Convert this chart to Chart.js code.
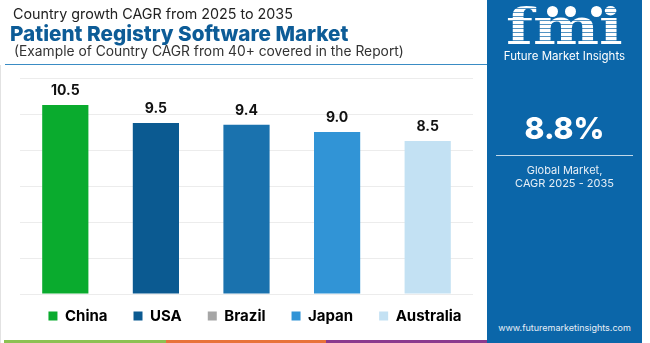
<!DOCTYPE html>
<html>
<head>
<meta charset="utf-8">
<script src="https://cdn.jsdelivr.net/npm/chart.js@4"></script>
<style>
  html, body { margin: 0; padding: 0; background: #fff; }
  body { width: 650px; height: 343px; position: relative; overflow: hidden; font-family: Inter, "Open Sans", sans-serif; }
  #wrap { position: absolute; left: 0; top: 0; width: 487px; height: 345px; }
  .t1 { position: absolute; left: 13px; top: 5px; font-size: 14.3px; color: #222; white-space: nowrap; }
  .t2 { position: absolute; left: 10px; top: 21px; font-size: 20.7px; font-weight: 800; color: #0d5c97; white-space: nowrap; }
  .t3 { position: absolute; left: 14px; top: 43px; font-size: 13.8px; color: #333; white-space: nowrap; }
  .rule { position: absolute; left: 5px; top: 64px; width: 482px; height: 1px; background: #3a8cc4; }
  .lborder { position: absolute; left: 0; top: 65px; width: 1px; height: 278px; background: #e2e2e2; }
  .strip { position: absolute; top: 340px; height: 3px; }
  #panel { position: absolute; left: 487px; top: 0; width: 155px; height: 343px; background: #0b66a9; color: #fff; text-align: center; }
  .logo { position: absolute; left: 0; width: 155px; top: -3px; font-family: "DejaVu Serif", serif; font-weight: bold; font-size: 50px; transform: scaleX(1.25);
          background: repeating-linear-gradient(#fff 0 3px, rgba(255,255,255,0.3) 3px 4px); -webkit-background-clip: text; background-clip: text; color: transparent; }
  .dots { position: absolute; top: 6px; width: 11px; height: 11px; border-radius: 50%; background: #fff; }
  .fmi { position: absolute; left: 0; width: 155px; top: 49px; font-size: 11.5px; }
  .big { position: absolute; left: 0; width: 155px; top: 110px; font-size: 30px; font-weight: 800; }
  .hr { position: absolute; left: 9px; width: 137px; top: 155px; height: 1px; background: rgba(255,255,255,0.75); }
  .glob { position: absolute; left: 0; width: 155px; top: 164px; font-size: 11px; line-height: 13px; color: #e6eef6; }
  .url { position: absolute; left: 0; width: 155px; top: 322px; font-size: 9px; color: #e6eef6; }
</style>
</head>
<body>
<div id="wrap"><canvas id="chart"></canvas></div>
<div class="t1">Country growth CAGR from 2025 to 2035</div>
<div class="t2">Patient Registry Software Market</div>
<div class="t3">(Example of Country CAGR from 40+ covered in the Report)</div>
<div class="rule"></div>
<div class="lborder"></div>
<div class="strip" style="left:4px;width:162px;background:#8cc152;"></div>
<div class="strip" style="left:166px;width:160px;background:#e8733a;"></div>
<div class="strip" style="left:326px;width:161px;background:#8b3a8e;"></div>
<div id="panel">
  <div class="logo">fmi</div>
  <div class="dots" style="left:60px;"></div>
  <div class="dots" style="left:78px;"></div>
  <div class="dots" style="left:104px;"></div>
  <div class="fmi">Future Market Insights</div>
  <div class="big">8.8%</div>
  <div class="hr"></div>
  <div class="glob">Global Market,<br>CAGR 2025 - 2035</div>
  <div class="url">www.futuremarketinsights.com</div>
</div>
<script>
// Data
const negara = ['China', 'USA', 'Brazil', 'Japan', 'Australia'];
const nilaiCagr = [10.5, 9.5, 9.4, 9.0, 8.5];
const warnaBar = ['#0aab2e', '#0b5a91', '#1a72ae', '#3194d6', '#c3e1f3'];
const warnaLegend = ['#0aab2e', '#0b5a91', '#a6a6a6', '#3194d6', '#c3e1f3'];
const yTicks = [0, 2, 4, 6, 8, 10, 12];

// geser legend supaya posisinya sama dengan gambar
const geserLegend = { x: 11.5, y: -11.5 };

const labelNilai = {
  id: 'labelNilai',
  afterDatasetsDraw(chart) {
    const c = chart.ctx;
    const meta = chart.getDatasetMeta(0);
    c.save();
    c.font = 'bold 14px Inter, sans-serif';
    c.fillStyle = '#111';
    c.textAlign = 'center';
    c.textBaseline = 'bottom';
    meta.data.forEach((bar, i) => {
      c.fillText(nilaiCagr[i].toFixed(1), bar.x, bar.y - 7);
    });
    c.restore();
  }
};

const posisiLegend = {
  id: 'posisiLegend',
  afterLayout(chart) {
    const lg = chart.legend;
    if (!lg) return;
    lg.left += geserLegend.x;
    lg.right += geserLegend.x;
    lg.top += geserLegend.y;
    lg.bottom += geserLegend.y;
  }
};

const ctx = document.getElementById('chart').getContext('2d');
new Chart(ctx, {
  type: 'bar',
  data: {
    labels: negara,
    datasets: [{
      label: 'CAGR',
      data: nilaiCagr,
      backgroundColor: warnaBar,
      borderWidth: 0,
      categoryPercentage: 1,
      barPercentage: 0.51
    }]
  },
  options: {
    responsive: true,
    maintainAspectRatio: false,
    animation: false,
    layout: {
      padding: { top: 78, left: 0, right: 0, bottom: 0 }
    },
    plugins: {
      tooltip: { enabled: false },
      legend: {
        position: 'bottom',
        labels: {
          boxWidth: 9,
          boxHeight: 9,
          padding: 26,
          color: '#111',
          font: { family: 'Inter, sans-serif', size: 15, weight: 'bold' },
          generateLabels: () => negara.map((n, i) => ({
            text: n,
            fillStyle: warnaLegend[i],
            strokeStyle: warnaLegend[i],
            lineWidth: 0,
            hidden: false,
            index: i
          }))
        }
      }
    },
    scales: {
      x: {
        display: false
      },
      y: {
        min: 0,
        max: 12,
        afterBuildTicks: axis => { axis.ticks = yTicks.map(v => ({ value: v })); },
        afterFit: axis => { axis.width = 20; },
        ticks: { display: false },
        border: { display: false },
        grid: { color: '#ececec', drawTicks: false }
      },
      kanan: {
        position: 'right',
        display: true,
        afterFit: axis => { axis.width = 14; },
        ticks: { display: false },
        border: { display: false },
        grid: { display: false, drawTicks: false }
      }
    }
  },
  plugins: [labelNilai, posisiLegend]
});
</script>
</body>
</html>
